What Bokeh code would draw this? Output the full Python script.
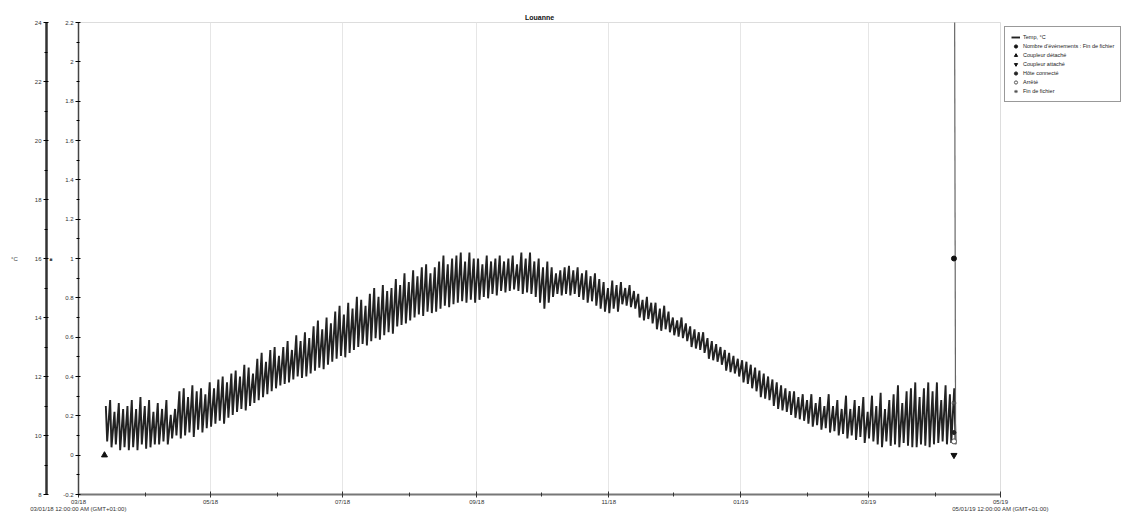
import pandas as pd
from bokeh.plotting import figure
from bokeh.models import (Range1d, LinearAxis, FixedTicker, CustomJSTickFormatter,
                          Legend, LegendItem, ColumnDataSource)
from bokeh.embed import file_html
from bokeh.resources import INLINE

# ---------------- data ----------------
title = "Louanne"
series_start = "2018-03-13"
step_days = 2   # one daily maximum and the following minimum every 2 days

tmax = [11.0, 11.2, 10.8, 11.1, 10.9, 11.0,
        11.2, 10.9, 11.3, 11.0, 11.2, 10.8,
        11.1, 10.9, 11.2,
        10.7, 10.9,
        11.5, 11.6, 11.3, 11.7, 11.5, 11.6, 11.4,
        11.8, 11.6, 11.9, 12.0, 11.8, 12.1,
        12.2, 12.0, 12.4, 12.3, 12.1,
        12.6, 12.8, 12.5, 12.9, 13.0, 12.7,
        13.0, 13.2, 12.9, 13.4, 13.2,
        13.5, 13.3, 13.7, 13.9, 13.6,
        14.0, 13.8, 14.2, 14.4, 14.1,
        14.5, 14.3, 14.7, 14.6, 14.4,
        14.8, 15.0, 14.7, 15.1, 14.9, 15.0,
        15.3, 15.1, 15.5, 15.2,
        15.6, 15.4, 15.7, 15.8, 15.5, 15.7,
        15.9, 16.1, 15.8, 16.0,
        16.1, 16.2, 15.9, 16.2, 16.0,
        16.0, 15.8, 16.1, 15.9, 16.0,
        16.1, 15.9, 16.0, 16.1, 15.8,
        16.2, 16.0, 16.2, 15.9,
        16.0, 15.7, 15.9,
        15.7, 15.5, 15.6, 15.7,
        15.75, 15.6, 15.7, 15.5,
        15.6, 15.4, 15.5, 15.3,
        15.2, 15.0, 15.25, 15.1,
        15.2, 15.0, 15.1, 14.9,
        14.8, 14.6, 14.7, 14.5,
        14.5, 14.3, 14.4, 14.2,
        14.0, 13.9, 14.0, 13.8,
        13.7, 13.6, 13.5, 13.5,
        13.3, 13.2, 13.1, 13.0,
        12.9, 12.8, 12.7, 12.6,
        12.55, 12.5, 12.4, 12.3,
        12.2, 12.1, 12.0, 11.9,
        11.8, 11.7, 11.6, 11.5,
        11.5, 11.3, 11.4, 11.2,
        11.4, 11.1, 11.3, 11.0,
        11.4, 11.0, 11.2, 10.9,
        11.35, 10.9, 11.2, 11.0,
        11.3, 10.8, 11.35, 11.0,
        11.45, 10.9, 11.2, 11.4,
        11.7, 11.1, 11.5, 11.6,
        11.8, 11.3, 11.6, 11.8,
        11.5, 11.8, 11.2, 11.7, 11.4, 11.6]

tmin = [9.8, 9.6, 9.7, 9.5, 9.6, 9.5,
        9.6, 9.5, 9.7, 9.55, 9.6, 9.7,
        9.7, 9.8, 9.7,
        9.9, 10.0,
        9.9, 10.0, 10.1, 9.95, 10.2, 10.1, 10.25,
        10.3, 10.4, 10.5, 10.4, 10.6, 10.7,
        10.8, 10.9, 10.85, 11.0, 11.1,
        11.2, 11.3, 11.4, 11.5, 11.6, 11.7,
        11.75, 11.8, 11.9, 12.0, 11.95,
        12.0, 12.1, 12.2, 12.3, 12.25,
        12.4, 12.5, 12.6, 12.7, 12.65,
        12.8, 12.9, 13.0, 13.1, 13.05,
        13.2, 13.3, 13.25, 13.4, 13.5, 13.45,
        13.7, 13.75, 13.8, 13.9,
        14.0, 14.1, 14.05, 14.2, 14.15, 14.2,
        14.3, 14.4, 14.35, 14.45,
        14.5, 14.55, 14.5, 14.6, 14.5,
        14.6, 14.7, 14.65, 14.8, 14.75,
        14.9, 14.85, 14.9, 14.95, 14.9,
        14.8, 14.85, 14.8, 14.7,
        14.5, 14.3, 14.5,
        14.7, 14.8, 14.75, 14.8,
        14.75, 14.8, 14.7, 14.6,
        14.5, 14.55, 14.4, 14.3,
        14.2, 14.15, 14.3, 14.2,
        14.45, 14.4, 14.35, 14.3,
        14.0, 13.9, 13.95, 13.8,
        13.6, 13.55, 13.6, 13.5,
        13.4, 13.35, 13.3, 13.2,
        13.0, 12.95, 12.9, 12.8,
        12.6, 12.55, 12.5, 12.4,
        12.2, 12.15, 12.1, 12.0,
        11.8, 11.75, 11.6, 11.5,
        11.3, 11.25, 11.2, 11.0,
        10.9, 10.85, 10.8, 10.7,
        10.6, 10.55, 10.5, 10.4,
        10.3, 10.35, 10.2, 10.25,
        10.1, 10.15, 10.0, 10.05,
        9.9, 10.0, 9.85, 9.95,
        9.75, 9.9, 9.8, 9.7,
        9.6, 9.8, 9.65, 9.7,
        9.6, 9.75, 9.65, 9.6,
        9.6, 9.7, 9.65, 9.6,
        9.7, 9.75, 9.8, 9.7, 9.75, 9.7]

last_reading_time = "2019-04-09 18:00"
last_reading_temp = 26.0

x_start, x_end = "2018-03-01", "2019-05-01"
x_major_dates = ["2018-03-01", "2018-05-01", "2018-07-01", "2018-09-01",
                 "2018-11-01", "2019-01-01", "2019-03-01", "2019-05-01"]
x_major_labels = ["03/18", "05/18", "07/18", "09/18", "11/18", "01/19", "03/19", "05/19"]
x_minor_dates = ["2018-04-01", "2018-06-01", "2018-08-01", "2018-10-01",
                 "2018-12-01", "2019-02-01", "2019-04-01"]
x_range_labels = ["03/01/18 12:00:00 AM (GMT+01:00)", "05/01/19 12:00:00 AM (GMT+01:00)"]

temp_range = (8, 24)
temp_ticks = [8, 10, 12, 14, 16, 18, 20, 22, 24]
temp_minor = [9, 11, 13, 15, 17, 19, 21, 23]
event_range = (-0.2, 2.2)
event_ticks = [-0.2, 0, 0.2, 0.4, 0.6, 0.8, 1.0, 1.2, 1.4, 1.6, 1.8, 2.0, 2.2]
event_minor = [-0.1, 0.1, 0.3, 0.5, 0.7, 0.9, 1.1, 1.3, 1.5, 1.7, 1.9, 2.1]

# events: (time, value)
ev_count = ("2019-04-09 12:00", 1.0)          # secondary axis
coupler_detached = ("2018-03-13 00:00", 0.0)  # secondary axis
coupler_attached = ("2019-04-09 12:00", 0.0)  # secondary axis
host_connected = ("2019-04-09 12:00", 10.1)   # temperature
stopped = ("2019-04-09 12:00", 9.8)           # temperature
end_of_file = ("2019-04-09 12:00", 11.1)      # temperature

legend_labels = ["Temp, °C", "Nombre d'évènements : Fin de fichier",
                 "Coupleur détaché", "Coupleur attaché", "Hôte connecté",
                 "Arrêté", "Fin de fichier"]

# ---------------- build ----------------
FONT = "Liberation Sans"
ms = lambda s: pd.Timestamp(s).value / 1e6

days = pd.date_range(series_start, periods=len(tmax), freq=f"{step_days}D")
xs, ys = [], []
for d, hi, lo in zip(days, tmax, tmin):
    xs += [d + pd.Timedelta(hours=15), d + pd.Timedelta(hours=30)]
    ys += [hi, lo]

p = figure(frame_width=922, frame_height=472, x_axis_type="datetime",
           x_range=Range1d(pd.Timestamp(x_start), pd.Timestamp(x_end)),
           y_range=Range1d(*event_range),
           output_backend="svg", toolbar_location=None,
           min_border_left=78, min_border_right=125, min_border_top=22,
           min_border_bottom=18, background_fill_color="white",
           border_fill_color="white")
p.extra_y_ranges = {"temp": Range1d(*temp_range)}

p.title.text = title
p.title.align = "center"
p.title.text_font = FONT
p.title.text_font_size = "7px"
p.title.text_font_style = "bold"
p.title.text_color = "#111111"
p.title.standoff = 3

p.outline_line_color = "#dddddd"
p.ygrid.visible = False
p.xgrid.grid_line_color = "#e6e6e6"
p.xgrid.ticker = FixedTicker(ticks=[ms(d) for d in x_major_dates])

# x axis (first and last labels carry the full range date on a second line)
labels = dict(zip(x_major_dates, x_major_labels))
labels[x_start] = labels[x_start] + "\n" + x_range_labels[0]
labels[x_end] = labels[x_end] + "\n" + x_range_labels[1]
xa = p.xaxis[0]
xa.ticker = FixedTicker(ticks=[ms(d) for d in x_major_dates],
                        minor_ticks=[ms(d) for d in x_minor_dates])
xa.major_label_overrides = {ms(d): l for d, l in labels.items()}
xa.axis_line_color = "#777777"
xa.axis_line_width = 2
xa.major_tick_in = 3
xa.major_tick_out = 3
xa.minor_tick_in = 2
xa.minor_tick_out = 2
xa.major_tick_line_color = "#333333"
xa.minor_tick_line_color = "#333333"
xa.major_label_standoff = 1
xa.major_label_text_font = FONT
xa.major_label_text_font_size = "6px"
xa.major_label_text_line_height = 1.2
xa.major_label_text_color = "#333333"

# event (secondary) axis, adjacent to the frame
ya = p.yaxis[0]
ya.ticker = FixedTicker(ticks=event_ticks, minor_ticks=event_minor)
ya.formatter = CustomJSTickFormatter(code="return String(Math.round(tick*10)/10);")
ya.axis_label = "■"
ya.axis_label_orientation = "horizontal"
ya.axis_label_standoff = 8
ya.axis_label_text_font_size = "5px"
ya.axis_label_text_font_style = "normal"
ya.axis_line_color = "#444444"
ya.axis_line_width = 1.5
ya.major_tick_in = 2
ya.major_tick_out = 3
ya.minor_tick_in = 1
ya.minor_tick_out = 2
ya.major_label_standoff = 2
ya.major_label_text_font = FONT
ya.major_label_text_font_size = "6px"
ya.major_label_text_color = "#333333"

# temperature axis
ta = LinearAxis(y_range_name="temp",
                ticker=FixedTicker(ticks=temp_ticks, minor_ticks=temp_minor),
                axis_label="°C", axis_label_orientation="horizontal",
                axis_label_standoff=14, axis_label_text_font=FONT,
                axis_label_text_font_size="6px", axis_label_text_font_style="normal",
                axis_line_color="#333333", axis_line_width=2.5,
                major_tick_in=2, major_tick_out=3, minor_tick_in=1, minor_tick_out=2,
                major_label_standoff=2, major_label_text_font=FONT,
                major_label_text_font_size="6px", major_label_text_color="#333333")
p.add_layout(ta, "left")

# temperature line (daily cycle band) and the final out-of-water reading
src = ColumnDataSource(dict(t=xs, v=ys))
r_temp = p.line("t", "v", source=src, y_range_name="temp",
                line_color="#222222", line_width=1.9)
p.line([xs[-1], pd.Timestamp(last_reading_time)], [ys[-1], last_reading_temp],
       y_range_name="temp", line_color="#666666", line_width=1.2)

def pt(ev):
    return dict(t=[pd.Timestamp(ev[0])], v=[ev[1]])

r_cnt = p.scatter("t", "v", source=ColumnDataSource(pt(ev_count)), marker="circle",
                  size=5, color="#111111")
r_det = p.scatter("t", "v", source=ColumnDataSource(pt(coupler_detached)),
                  marker="triangle", size=6, color="#111111")
r_att = p.scatter("t", "v", source=ColumnDataSource(pt(coupler_attached)),
                  marker="inverted_triangle", size=6, color="#111111")
r_host = p.scatter("t", "v", source=ColumnDataSource(pt(host_connected)),
                   y_range_name="temp", marker="circle", size=4, color="#222222")
r_stop = p.scatter("t", "v", source=ColumnDataSource(pt(stopped)),
                   y_range_name="temp", marker="circle", size=5,
                   fill_color="white", line_color="#555555")
r_eof = p.scatter("t", "v", source=ColumnDataSource(pt(end_of_file)),
                  y_range_name="temp", marker="asterisk", size=5,
                  line_color="#555555")

legend = Legend(items=[LegendItem(label=l, renderers=[r]) for l, r in
                       zip(legend_labels, [r_temp, r_cnt, r_det, r_att, r_host, r_stop, r_eof])],
                location="top_left", margin=4, padding=6, spacing=1,
                glyph_width=9, glyph_height=8, label_height=8, label_standoff=3,
                label_text_font=FONT, label_text_font_size="5.5px",
                label_text_color="#222222",
                border_line_color="#333333", border_line_width=1.5,
                background_fill_color="white")
p.add_layout(legend, "right")

open("out.html", "w").write(file_html(p, INLINE))
